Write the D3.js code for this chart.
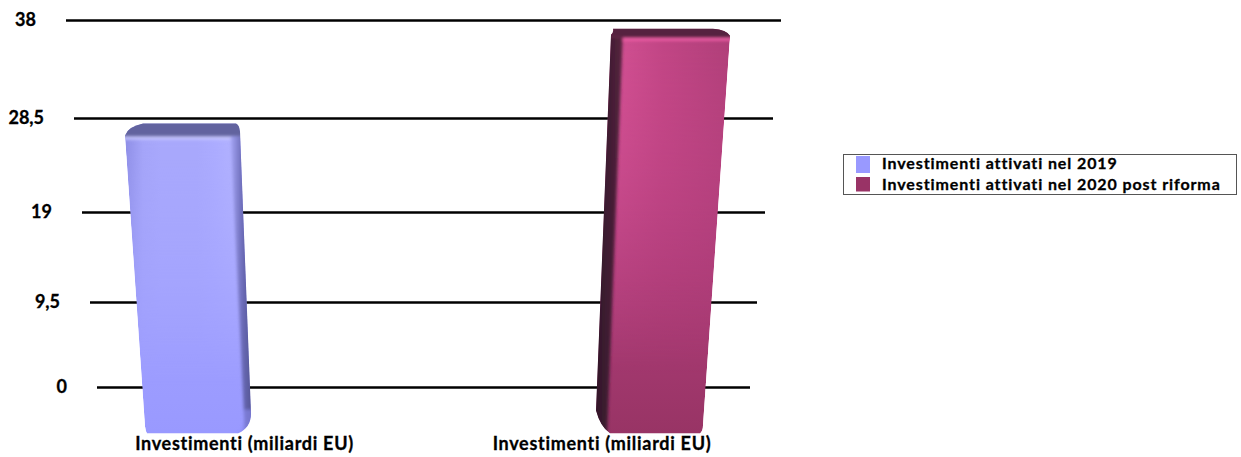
<!DOCTYPE html>
<html>
<head>
<meta charset="utf-8">
<script src="https://cdn.jsdelivr.net/npm/d3@7"></script>
<style>
html,body{margin:0;padding:0;background:#fff;}
svg{display:block;font-family:Lato,"Open Sans",sans-serif;font-weight:700;}
text{fill:#000;stroke:#000;stroke-width:0.3px;}
</style>
</head>
<body>
<svg id="chart" width="1241" height="457"></svg>
<script>
// Chart values
const tickValues = [0, 9.5, 19, 28.5, 38];
const tickLabels = ["0", "9,5", "19", "28,5", "38"];
const seriesNames = ["Investimenti attivati nel 2019", "Investimenti attivati nel 2020 post riforma"];
const seriesValues = [28, 37.2];
const categoryLabels = ["Investimenti (miliardi EU)", "Investimenti (miliardi EU)"];
const seriesColors = ["#9999ff", "#993366"];

// Perspective floor: each tick gets its own height and line ends
const y = d3.scaleLinear().domain(tickValues).range([387.5, 302.5, 212.5, 118.5, 20.5]);
const gridLeft = d3.scaleLinear().domain(tickValues).range([97, 90, 82, 74, 66]);
const gridRight = d3.scaleLinear().domain(tickValues).range([750, 757, 765, 773, 781]);
const labelX = d3.scalePoint().domain(d3.range(seriesNames.length)).range([244.5, 602]);
const floorDrop = 46;

// Outline of each 3D column: [top, bottom] x of its edges plus corner rounding
const frames = [
  {left:[125,145], right:[240,251], frontLeft:[125,145], frontRight:[230,245], backLeft:143, backRight:236,
   topL:[0,12], topR:[4,8], botL:[2,7], botR:[13,20], depth:12,
   side:"right", topFace:"#62649f", sideStops:["#a4a4f4","#6a6ab6","#4c4d88"],
   front:["#a8a8ff","#a2a2ff","#9999ff"],
   sheen:["#8c8ce4","#a4a4f8","#a8a8fc","#a8a8fc","#a8a8fc","#acacff","#b2b2ff","#b6b6ff"], rim:"#c8c8ff"},
  {left:[611,596], right:[730,703], frontLeft:[623,607], frontRight:[730,703], backLeft:613, backRight:713,
   topL:[0,6], topR:[17,7], botL:[14,23], botR:[3,8], depth:8,
   side:"left", topFace:"#57233f", sideStops:["#57233f","#3c1b30","#2e1626"],
   front:["#d44c92","#b43f7e","#983465"], sheen:["#d85598","#c04584","#ae3f78"], rim:"#ee5ea6"}
];

const svg = d3.select("#chart");
const defs = svg.append("defs");
defs.append("filter").attr("id","soft").attr("x","-10%").attr("y","-10%").attr("width","120%").attr("height","120%")
  .append("feGaussianBlur").attr("stdDeviation",1.6);

// Gridlines and value labels
svg.append("g").selectAll("line").data(tickValues).join("line")
  .attr("x1", d => gridLeft(d)).attr("x2", d => gridRight(d))
  .attr("y1", d => y(d)).attr("y2", d => y(d))
  .attr("stroke","#000").attr("stroke-width",2.6);
svg.append("g").selectAll("text").data(tickValues).join("text")
  .attr("x", d => gridLeft(d) - 30).attr("y", d => y(d) + 5)
  .attr("text-anchor","end").attr("font-size",18)
  .text((d,i) => tickLabels[i]);

// Columns
function gradient(id, x1, y1, x2, y2, stops){
  const g = defs.append("linearGradient").attr("id",id)
    .attr("x1",x1).attr("y1",y1).attr("x2",x2).attr("y2",y2);
  stops.forEach((c,i) => g.append("stop").attr("offset", i/(stops.length-1)).attr("stop-color",c));
}
const lerp = (e, t) => e[0] + (e[1]-e[0])*t;

seriesValues.forEach((v,i) => {
  const f = frames[i], top = y(v), bottom = y(0) + floorDrop, fTop = top + f.depth + 1;
  const at = (e, py) => lerp(e, (py-top)/(bottom-top));
  const xTL = f.left[0], xTR = f.right[0], xBL = f.left[1], xBR = f.right[1];

  const outline = `M${xTL},${top+f.topL[1]} Q${xTL+3},${top+3} ${f.backLeft},${top}
    L${f.backRight},${top} Q${xTR-f.topR[0]*0.2},${top+1} ${xTR},${top+f.topR[1]}
    L${xBR},${bottom-f.botR[1]} Q${xBR},${bottom-f.botR[1]*0.3} ${xBR-f.botR[0]},${bottom}
    L${xBL+f.botL[0]},${bottom} Q${xBL+f.botL[0]*0.3},${bottom-f.botL[1]*0.3} ${xBL},${bottom-f.botL[1]} Z`;
  defs.append("clipPath").attr("id",`shape${i}`).append("path").attr("d",outline);

  gradient(`front${i}`,0,0,0,1,f.front);
  gradient(`sheen${i}`,0,0,1,0,f.sheen);
  gradient(`side${i}`, f.side==="right"?0:1,0, f.side==="right"?1:0,0, f.sideStops);

  const g = svg.append("g").attr("clip-path",`url(#shape${i})`);
  g.append("path").attr("d",outline).attr("fill",`url(#front${i})`);

  // Horizontal sheen fades out toward the foot of the column
  const fadeId = `fade${i}`;
  const fade = defs.append("linearGradient").attr("id",fadeId).attr("x1",0).attr("y1",0).attr("x2",0).attr("y2",1);
  fade.append("stop").attr("offset",0).attr("stop-color","#fff");
  fade.append("stop").attr("offset",0.85).attr("stop-color","#000");
  const mask = defs.append("mask").attr("id",`mask${i}`).attr("maskUnits","userSpaceOnUse")
    .attr("x",0).attr("y",0).attr("width",1241).attr("height",457);
  mask.append("path").attr("d",outline).attr("fill",`url(#${fadeId})`);
  g.append("path").attr("d",outline).attr("fill",`url(#sheen${i})`).attr("mask",`url(#mask${i})`);

  const soft = g.append("g").attr("filter","url(#soft)");
  // Lit rim along the front face's upper edge
  soft.append("line").attr("x1",xTL-4).attr("x2",xTR+4).attr("y1",fTop+1.5).attr("y2",fTop+1.5)
    .attr("stroke",f.rim).attr("stroke-width",3);
  // Top face
  soft.append("path").attr("d",`M${xTL-6},${top-6} L${xTR+6},${top-6} L${xTR+6},${fTop} L${xTL-6},${fTop} Z`)
    .attr("fill",f.topFace);
  // Shaded side face
  const sideEdge = f.side === "right" ? f.frontRight : f.frontLeft;
  const outer = f.side === "right" ? f.right : f.left;
  const pad = f.side === "right" ? 4 : -6;
  soft.append("path").attr("d",
      `M${at(sideEdge,fTop)},${fTop} L${at(outer,fTop)+pad},${fTop} L${at(outer,bottom)+pad},${bottom+4} L${at(sideEdge,bottom)},${bottom+4} Z`)
    .attr("fill",`url(#side${i})`);
  if (f.side === "right") {
    // Fillet where the side face meets the foot
    soft.append("path").attr("d",`M${xBR-14},${bottom+1} Q${xBR-6},${bottom-4} ${xBR-7},${bottom-24} L${xBR+4},${bottom-24} L${xBR+4},${bottom+4} Z`)
      .attr("fill","#8a8af0").attr("opacity",0.6);
  }
});

// Category labels
svg.append("g").selectAll("text").data(categoryLabels).join("text")
  .attr("x",(d,i) => labelX(i)).attr("y",449.5)
  .attr("text-anchor","middle").attr("font-size",18).attr("letter-spacing",0.7)
  .text(d => d);

// Legend
const legend = svg.append("g");
legend.append("rect").attr("x",843.5).attr("y",154.5).attr("width",393).attr("height",40)
  .attr("fill","#fff").attr("stroke","#555").attr("stroke-width",1);
const legendRow = d3.scalePoint().domain(d3.range(seriesNames.length)).range([156,177]);
legend.selectAll("rect.swatch").data(seriesNames).join("rect").attr("class","swatch")
  .attr("x",856).attr("y",(d,i) => legendRow(i)).attr("width",14).attr("height",(d,i) => i ? 14.5 : 17)
  .attr("fill",(d,i) => seriesColors[i]);
legend.selectAll("text").data(seriesNames).join("text")
  .attr("x",882).attr("y",(d,i) => legendRow(i) + 13)
  .attr("font-size",16).attr("letter-spacing",0.9)
  .text(d => d);
</script>
</body>
</html>
